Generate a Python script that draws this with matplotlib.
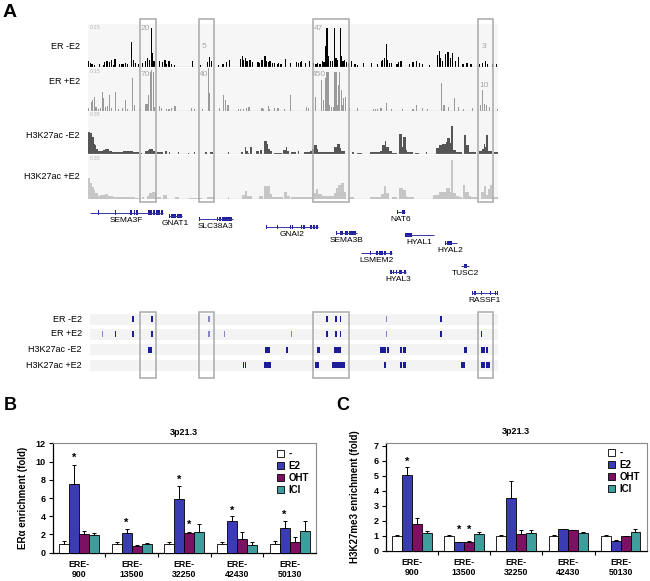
import numpy as np
import matplotlib
matplotlib.use("Agg")
import matplotlib.pyplot as plt
from matplotlib.patches import Rectangle, Patch
from matplotlib.transforms import blended_transform_factory

plt.rcParams['font.family'] = ['Liberation Sans', 'DejaVu Sans']

# ---------------- panel A: browser tracks (locus position in arbitrary units) ----------------
track_names = ["ER -E2", "ER +E2", "H3K27ac -E2", "H3K27ac +E2"]
track_ranges = ["0-15", "0-15", "0-35", "0-35"]
track_ymax = [15, 15, 35, 35]

# ER ChIP-seq signal: (position, signal)
er_minus_e2 = [(109, 1.8), (111, 1.2), (113, 0.8), (116, 0.6), (122, 1.0), (127, 0.6), (129, 1.6), (131, 2.0),
               (133, 1.8), (135, 1.5), (138, 2.2), (140, 0.6), (142, 2.7), (148, 1.0), (150, 0.8), (152, 1.0),
               (155, 1.2), (158, 1.0), (163, 8.5), (165, 2.4), (168, 1.2), (172, 1.0), (177, 1.2), (180, 1.8),
               (183, 3.0), (185, 2.4), (187.7, 13.7), (189, 4.8), (191, 1.8), (198, 1.8), (202, 1.5), (205, 2.2),
               (207, 1.0), (210, 1.8), (213, 1.0), (217, 0.6), (240, 1.8), (250, 0.6), (258, 1.5), (261, 3.4),
               (263, 1.8), (272, 0.6), (278, 1.0), (282, 1.5), (286, 2.4),
               (300, 2.5), (302, 3.6), (304, 2.4), (306, 3.0), (308, 2.0), (311, 2.2), (313, 2.4), (315, 1.5),
               (322, 1.5), (324, 1.2), (327, 2.4), (330.7, 3.6), (333, 1.8), (335, 1.5), (337, 1.8), (340, 1.2),
               (343, 1.2), (346, 1.0), (348, 1.2), (351, 0.8), (356.7, 2.7), (363, 1.2), (370, 1.5), (373, 1.2),
               (375, 1.5), (377, 1.8), (382, 1.2), (387, 1.8), (392, 1.2), (395, 1.0), (397, 1.2), (400, 1.0),
               (403, 1.8), (405, 1.5), (407.3, 7.3), (408.7, 13.7), (410, 3.6), (413, 1.8), (416, 1.8),
               (418.3, 13.7), (420, 3.0), (422, 2.4), (426, 13.7), (427.5, 3.6), (429, 1.8), (431, 2.4),
               (433, 1.5), (436, 1.2), (440, 1.8), (444, 1.0), (447, 0.6), (455, 1.2), (465, 1.2), (472, 1.0),
               (477, 1.8), (479, 2.4), (481, 3.0), (483.3, 7.9), (485, 2.4), (487, 1.2), (490, 1.2), (497, 1.0),
               (499, 1.5), (502, 1.8), (513, 1.0), (517, 1.5), (521, 1.8), (525, 1.2), (529, 1.0), (538, 0.6),
               (548, 4.0), (550, 5.5), (552, 3.0), (554, 2.0), (558, 4.5), (561, 5.0), (564, 3.0), (567, 4.8),
               (571, 1.8), (574, 3.5), (580, 1.0), (585, 1.2), (590, 1.0), (601, 0.8), (604, 1.2), (608, 1.8),
               (611, 1.0), (617, 1.0), (622, 1.0)]

er_plus_e2 = [(109, 1.0), (112, 3.0), (114, 3.6), (115.7, 4.8), (118, 1.2), (121, 0.6), (124, 1.0), (126.7, 6.6),
              (128, 4.2), (130, 1.2), (132.7, 1.5), (135, 5.4), (137.7, 1.0), (142.3, 6.6), (146.7, 0.6),
              (151.7, 1.0), (155.7, 3.6), (157.7, 0.6), (164.3, 11.4), (166.7, 1.8), (174, 1.0), (180, 2.4),
              (182.3, 2.4), (184.3, 5.4), (186.7, 13.5), (188.3, 14.0), (190, 13.5), (191.7, 1.2), (198, 1.5),
              (200, 1.0), (207, 0.6), (210, 0.6), (213.3, 1.0), (217, 1.5), (218.3, 1.5), (238.3, 1.0),
              (242.3, 0.6), (251.7, 0.6), (260, 15.0), (261, 6.0), (273.3, 1.0), (279, 5.4), (281, 3.6),
              (284.3, 1.8),
              (297, 0.6), (300, 0.6), (304, 0.6), (307, 0.8), (310.7, 1.2), (327, 1.0), (329, 0.6), (335, 1.5),
              (336.7, 0.6), (343, 1.0), (346, 0.8), (348, 1.0), (355, 0.6), (363.3, 5.4), (383.3, 1.2),
              (386, 1.0), (394.3, 4.8), (401.7, 10.8), (404, 3.6), (406.7, 11.4), (408.3, 13.3), (410, 13.5),
              (411.7, 1.8), (414, 1.2), (416.7, 1.2), (418.3, 13.5), (420, 13.5), (421.7, 1.8), (423.3, 9.0),
              (425, 13.5), (426.7, 7.2), (428.3, 1.8), (430, 4.2), (431.7, 4.8), (436.7, 1.0), (446.7, 1.0),
              (467, 0.6), (470, 0.6), (472, 0.6), (476.7, 1.0), (483.3, 2.7), (490, 0.6),
              (504, 0.6), (517, 0.6), (521, 1.8), (529, 1.0), (535, 0.6), (553, 9.6), (556, 1.8), (562, 1.2),
              (569, 4.2), (574, 1.2), (581, 0.6), (592, 1.0), (602, 1.8), (605, 7.2), (607.5, 2.4), (610, 1.8),
              (613, 1.2), (623, 0.6)]

# H3K27ac signal: (start, end, signal)
ac_minus_e2 = [(108, 111, 18), (111, 113, 17), (113, 115, 14), (115, 117, 8.3), (117, 118, 7), (118, 120, 4.2),
               (120, 123, 2.2), (123, 127, 2.8), (127, 130, 3.3), (130, 135, 4.2), (135, 138, 2.2), (138, 145, 1.4),
               (145, 152, 1.7), (152, 158, 2.2), (158, 165, 2.2), (165, 172, 1.4), (175, 176, 0.8), (180, 183, 2.2),
               (183, 185, 3.3), (185, 190, 4.2), (190, 193, 2.8), (195, 202, 1.7), (205, 208, 2.8), (210, 211, 1.4),
               (221, 222.5, 1.4), (234, 235.5, 1.1), (241, 242.5, 1.4), (255, 258, 1.4), (262, 265, 1.7),
               (284, 286, 1.4),
               (300, 303, 1.4), (305, 307, 5.5), (307, 309, 2.2), (309, 311, 1.2), (312, 314.5, 6.1), (319, 323, 2.2),
               (325, 327.5, 3.3), (330, 333, 10.5), (333, 335, 8.3), (335, 337, 4.0), (337, 340, 2.8),
               (342, 352, 1.1), (353, 357, 3.3), (357, 359, 6.1), (359, 361, 2.2), (363, 370, 1.4),
               (372, 373.5, 2.2), (380, 387, 1.4), (388, 390, 2.8), (390, 393, 4.0), (393, 396, 7.0),
               (396, 398, 4.2), (398, 402, 2.0), (402, 407, 1.7), (408, 417, 1.7), (417, 418, 3.0), (418, 422, 5.5),
               (422, 425, 8.3), (425, 427, 5.0), (427, 432, 2.2), (440, 443, 1.7), (447, 453, 0.8), (463, 473, 1.4),
               (473, 475, 2.0), (475, 478, 2.8), (478, 482, 7.0), (482, 483.5, 10.5), (483.5, 487, 5.5),
               (487, 490, 2.2), (490, 497, 1.1),
               (500, 503, 16), (503, 504, 6), (504, 508, 14), (508, 510, 3), (510, 517, 1.4), (519, 525, 0.8),
               (533, 534.5, 1.4), (546, 550, 4.5), (550, 554, 7.0), (554, 558, 8.5), (558, 560, 10), (560, 563, 13),
               (563, 565, 9), (565, 567, 23), (567, 571, 3.0), (571, 575, 2.0), (575, 579, 1.4), (581, 584, 15.7),
               (584, 587, 7), (587, 590, 2), (590, 596, 1.4), (600, 604, 2.2), (604, 606, 4), (606, 608, 8.5),
               (608, 609, 6), (609, 612, 15.7), (612, 617, 2.8), (619, 624, 1.4)]

ac_plus_e2 = [(108, 111, 16.4), (111, 113, 12.3), (113, 115, 9.6), (115, 117, 6.8), (117, 120, 4.1), (120, 123, 2.2),
              (123, 130, 2.7), (130, 133, 3.3), (133, 140, 2.2), (140, 147, 1.6), (147, 160, 1.4), (160, 167, 1.6),
              (167, 173, 0.8), (176, 178, 1.0), (182, 185, 2.2), (185, 189, 4.1), (189, 193, 5.5), (193, 200, 1.6),
              (203, 208, 2.7), (218, 222, 1.1), (235, 252, 0.8), (258, 267, 1.1), (284, 286, 1.4),
              (302, 306, 2.7), (306, 308, 6.0), (308, 315, 2.2), (323, 328, 2.2), (330, 333, 10.4), (333, 337, 10.4),
              (337, 340, 3.3), (340, 353, 1.4), (355, 358, 5.5), (358, 362, 2.2), (363, 390, 1.1), (392, 395, 4.1),
              (395, 398, 7.6), (398, 402, 3.3), (402, 417, 2.2), (417, 420, 4.1), (420, 423, 8.2), (423, 427, 11),
              (427, 430, 12.3), (430, 433, 5.5), (436, 443, 1.1), (463, 477, 1.4), (477, 480, 3.3),
              (480, 483, 10.4), (483, 487, 4.1), (490, 497, 1.1),
              (500, 504, 8.4), (504, 508, 7), (508, 510, 2), (510, 518, 1.4), (542, 550, 2.8), (550, 558, 5.6),
              (558, 563, 8.4), (563, 565, 5), (565, 567, 30.8), (567, 571, 4.2), (571, 575, 2), (575, 579, 1.4),
              (580, 583, 11), (583, 587, 5.6), (587, 590, 2), (590, 598, 1.4), (602, 606, 5.6), (606, 609, 9.8),
              (609, 612, 2.8), (612, 614, 8), (614, 617, 11), (617, 619, 2), (619, 624, 1.4)]

highlight_regions = [(173, 194), (248, 267), (391, 436), (599, 618)]
region_max_er_minus = ["20", "5", "47", "3"]
region_max_er_plus = ["70", "40", "450", "10"]

# genes: (name, start, end, exons)
genes = [
    ("SEMA3F", 110, 203, [(110, 111), (121, 122), (125, 126), (142, 143), (161, 163), (165.5, 167.5),
                          (169, 170.5), (184, 188), (189.5, 192.5), (194, 198.5), (200.5, 203)]),
    ("GNAT1", 209.5, 226, [(209.5, 211.5), (213, 219), (219.5, 226)]),
    ("SLC38A3", 248, 290, [(248, 249), (270, 271), (273, 275), (277, 280), (281, 289.5)]),
    ("GNAI2", 332, 397, [(332, 333), (345.5, 346.5), (362, 363), (365, 366), (376, 377), (379, 380.5),
                         (387, 390), (391, 394), (395.5, 397)]),
    ("SEMA3B", 420, 446, [(420, 421), (425, 429), (431, 435), (437, 445.5)]),
    ("NAT6", 497, 507, [(497, 498.5), (503, 506.5)]),
    ("HYAL1", 507, 544, [(507.5, 512), (512.5, 516)]),
    ("HYAL2", 557, 572, [(557, 559), (560, 563), (564, 566), (568, 569)]),
    ("LSMEM2", 451, 490, [(451, 452), (463, 464), (471, 473), (474, 479), (480, 483), (488.5, 490)]),
    ("TUSC2", 577, 588, [(577, 578), (581, 585.5), (587, 588)]),
    ("HYAL3", 488, 508, [(488, 490), (491.5, 493.5), (495, 497.5), (500, 503), (506, 508)]),
    ("RASSF1", 591, 624, [(591, 593), (594, 596.5), (603, 604), (613.5, 615), (620, 622), (623, 624)]),
]
gene_rows = [212.7, 216, 219, 227, 233, 212, 235, 243, 253, 266, 272, 293]

# called peaks: ER (position, score), H3K27ac (start, end)
er_minus_peaks = [(164.6, 1), (188.5, 1), (260.5, 0.5), (409, 1), (420, 1), (426, 1), (484, 0.5), (552, 1)]
er_plus_peaks = [(126, 0.5), (142.5, 1), (164.6, 1), (188.5, 1), (260.5, 0.5), (280, 0.5), (364, 0.5), (408.5, 1),
                 (409.5, 1), (420, 1), (426, 1), (484, 0.5), (552, 1), (603, 1)]
ac_minus_peaks = [(184, 189), (331, 337), (357, 360), (396, 400), (418, 427), (476, 483), (484.5, 487),
                  (501, 503), (505, 508), (581, 585), (603, 607.5), (608.5, 612)]
ac_plus_peaks = [(303, 304.5), (305.5, 307), (329, 338), (394, 399), (415, 431), (480, 483), (501, 503),
                 (505, 508), (578, 582), (603, 608), (609, 614)]

# ---------------- panels B and C: ChIP-qPCR ----------------
sites = ["ERE-\n900", "ERE-\n13500", "ERE-\n32250", "ERE-\n42430", "ERE-\n50130"]
treatments = ["-", "E2", "OHT", "ICI"]

era_ctrl = [1.0, 1.0, 1.0, 1.0, 1.0]
era_e2 = [7.5, 2.15, 5.9, 3.45, 2.75]
era_oht = [2.05, 0.75, 2.15, 1.55, 1.15]
era_ici = [1.95, 0.9, 2.25, 0.85, 2.35]
era_ctrl_err = [0.25, 0.15, 0.2, 0.15, 0.25]
era_e2_err = [2.1, 0.4, 1.4, 0.55, 0.75]
era_oht_err = [0.35, 0.1, 0.1, 0.75, 0.55]
era_ici_err = [0.25, 0.15, 0.85, 0.35, 1.1]
era_stars = [(0, "E2", 10.7), (1, "E2", 3.6), (2, "E2", 8.3), (2, "OHT", 3.4), (3, "E2", 4.9), (4, "E2", 4.5)]

k27_ctrl = [1.0, 1.0, 1.0, 1.0, 1.0]
k27_e2 = [5.05, 0.55, 3.5, 1.42, 0.65]
k27_oht = [1.8, 0.58, 1.12, 1.38, 0.95]
k27_ici = [1.2, 1.1, 1.2, 1.15, 1.28]
k27_ctrl_err = [0.05, 0.05, 0.05, 0.05, 0.05]
k27_e2_err = [0.5, 0.05, 1.15, 0.05, 0.05]
k27_oht_err = [0.4, 0.07, 0.25, 0.03, 0.03]
k27_ici_err = [0.1, 0.12, 0.2, 0.07, 0.2]
k27_stars = [(0, "E2", 6.1), (1, "E2", 1.6), (1, "OHT", 1.6)]

bar_colors = ["white", "#3b3bb4", "#7c1062", "#3f9d9d"]
peak_blue = "#1c1c96"

W, H = 650, 581
fig = plt.figure(figsize=(W / 100, H / 100), dpi=100)


def ax_px(x0, y0, x1, y1):
    return fig.add_axes([x0 / W, 1 - y1 / H, (x1 - x0) / W, (y1 - y0) / H])


def clean(ax):
    ax.set_xticks([])
    ax.set_yticks([])
    for s in ax.spines.values():
        s.set_visible(False)


LOCUS = (108, 624)
TRACK_X = (88, 498)   # pixel span of the browser panel

# signal tracks
track_box = [(24, 66.5), (67.5, 110.5), (111, 154), (155, 198.5)]
label_y = [46.7, 81.7, 135, 176.7]
signals = [er_minus_e2, er_plus_e2, ac_minus_e2, ac_plus_e2]
sig_colors = ["black", "#9a9a9a", "#555555", "#c6c6c6"]
track_axes = []
for i, (top, bot) in enumerate(track_box):
    ax = ax_px(TRACK_X[0], top, TRACK_X[1], bot)
    ax.set_xlim(*LOCUS)
    ax.set_ylim(0, track_ymax[i])
    ax.set_facecolor("#f6f6f6")
    clean(ax)
    data = signals[i]
    if i < 2:
        pos = [p for p, v in data]
        val = np.minimum([v for p, v in data], track_ymax[i])
        ax.bar(pos, val, width=1.5, color=sig_colors[i], linewidth=0)
    else:
        starts = [s for s, e, v in data]
        widths = [e - s for s, e, v in data]
        val = np.minimum([v for s, e, v in data], track_ymax[i])
        ax.bar(starts, val, width=widths, align="edge", color=sig_colors[i], linewidth=0)
    ax.axhline(0, color="#bdbdbd", lw=0.9)
    ax.text(LOCUS[0] + 2, track_ymax[i] * 0.97, track_ranges[i], fontsize=3.8, color="#b5b5b5",
            ha="left", va="top")
    fig.text(80 / W, 1 - label_y[i] / H, track_names[i], ha="right", va="center", fontsize=6.5)
    track_axes.append(ax)

# region maxima written in the highlighted boxes
lab_dx = [(7, 7), (6.5, 5), (6.5, 8), (7, 8)]
lab_fy = [(0.9, 0.83), (0.46, 0.83), (0.9, 0.83), (0.46, 0.59)]
for k, (x0, x1) in enumerate(highlight_regions):
    track_axes[0].text(x0 + lab_dx[k][0], lab_fy[k][0], region_max_er_minus[k], fontsize=6, color="#a8a8a8",
                       ha="center", va="center", transform=track_axes[0].get_xaxis_transform())
    track_axes[1].text(x0 + lab_dx[k][1], lab_fy[k][1], region_max_er_plus[k], fontsize=6, color="#a8a8a8",
                       ha="center", va="center", transform=track_axes[1].get_xaxis_transform())

# gene models
gax = ax_px(TRACK_X[0], 204, TRACK_X[1], 312)
gax.set_xlim(*LOCUS)
gax.set_ylim(312, 204)
gax.axis("off")
for (name, start, end, exons), row in zip(genes, gene_rows):
    gax.plot([start, end], [row, row], color="#3434a8", lw=0.7, solid_capstyle="butt")
    gax.bar([s for s, e in exons], 4.5, bottom=row - 2.25, width=[e - s for s, e in exons], align="edge",
            color="#1e1e9a", linewidth=0)
    gax.text((start + end) / 2, row + 3.8, name, ha="center", va="top", fontsize=6)

# called peaks block
pax = ax_px(TRACK_X[0], 305, TRACK_X[1], 382)
pax.set_xlim(*LOCUS)
pax.set_ylim(382, 305)
pax.axis("off")
row_y = [319, 334, 349.5, 365]
for c in row_y:
    pax.axhspan(c - 5.5, c + 5.5, xmin=0.004, color="#f3f3f3", lw=0)
for r, peaks in enumerate([er_minus_peaks, er_plus_peaks]):
    for p, score in peaks:
        pax.bar(p, 6.5, bottom=row_y[r] - 3.2, width=1.8, color=peak_blue if score >= 1 else "#8585c8",
                linewidth=0)
for r, peaks in enumerate([ac_minus_peaks, ac_plus_peaks]):
    pax.bar([s for s, e in peaks], 6, bottom=row_y[r + 2] - 3, width=[e - s for s, e in peaks], align="edge",
            color=peak_blue, linewidth=0)
for name, c in zip(track_names, row_y):
    fig.text(82 / W, 1 - c / H, name, ha="right", va="center", fontsize=6.5)

# highlight boxes across tracks
blend = blended_transform_factory(track_axes[0].transData, fig.transFigure)
for x0, x1 in highlight_regions:
    for ytop, ybot in [(19, 202), (312, 377.5)]:
        fig.add_artist(Rectangle((x0, 1 - ybot / H), x1 - x0, (ybot - ytop) / H, transform=blend,
                                 fill=False, edgecolor="#a9a9a9", lw=1.1, zorder=10))


# bar charts
def bar_panel(ax, means, errs, stars, ymax, yticks, ylabel, label_x):
    bw = 0.19
    x = np.arange(len(sites))
    for i, (m, e) in enumerate(zip(means, errs)):
        xi = x + (i - 1.5) * bw
        ax.errorbar(xi, m, yerr=[np.zeros(len(m)), e], fmt="none", ecolor="black", elinewidth=0.7,
                    capsize=1.6, capthick=0.7, zorder=2)
        ax.bar(xi, m, bw, color=bar_colors[i], edgecolor="black", linewidth=0.6, zorder=3,
               label=treatments[i])
    for g, t, y in stars:
        xs = g + (treatments.index(t) - 1.5) * bw
        ax.annotate("*", (xs, y), xytext=(0, -2), textcoords="offset points", ha="center", va="center",
                    fontsize=8, fontweight="bold")
    ax.set_xlim(-0.5, len(sites) - 0.5)
    ax.set_ylim(0, ymax)
    ax.set_yticks(yticks)
    ax.set_yticklabels([str(v) for v in yticks], fontsize=6.5, fontweight="bold")
    ax.set_xticks(x)
    ax.set_xticklabels(sites, fontsize=6.3, fontweight="bold", linespacing=1.15)
    ax.set_xticks(x[:-1] + 0.5, minor=True)
    ax.tick_params(axis="x", which="major", length=0, pad=5)
    ax.tick_params(axis="x", which="minor", length=3, width=0.8, direction="out")
    ax.tick_params(axis="y", length=3, width=0.8, direction="out", pad=2)
    for s in ["left", "bottom"]:
        ax.spines[s].set_color("black")
        ax.spines[s].set_linewidth(0.9)
    for s in ["top", "right"]:
        ax.spines[s].set_color("#8a8a8a")
        ax.spines[s].set_linewidth(0.8)
    ax.set_title("3p21.3", fontsize=6.5, fontweight="bold", pad=6)
    ax.set_ylabel(ylabel, fontsize=7, fontweight="bold")
    ax.yaxis.set_label_coords(label_x, 0.5)
    handles = [Patch(facecolor=c, edgecolor="black", linewidth=0.6) for c in bar_colors]
    leg = ax.legend(handles, treatments, loc="upper left", bbox_to_anchor=(0.85, 0.95), frameon=False,
                    fontsize=7, handlelength=0.8, handleheight=0.8, handletextpad=0.4, labelspacing=0.2,
                    borderpad=0, borderaxespad=0)
    for t in leg.get_texts():
        t.set_fontweight("bold")


axB = ax_px(52.7, 443.3, 316, 552.7)
bar_panel(axB, [era_ctrl, era_e2, era_oht, era_ici], [era_ctrl_err, era_e2_err, era_oht_err, era_ici_err],
          era_stars, 12, list(range(0, 13, 2)), "ERα enrichment (fold)", -0.094)

axC = ax_px(385.7, 442.7, 646.7, 550.7)
bar_panel(axC, [k27_ctrl, k27_e2, k27_oht, k27_ici], [k27_ctrl_err, k27_e2_err, k27_oht_err, k27_ici_err],
          k27_stars, 7.2, list(range(0, 8)), "H3K27me3 enrichment (fold)", -0.1)

fig.text(3 / W, 1 - 17 / H, "A", fontsize=14, fontweight="bold", va="baseline")
fig.text(4 / W, 1 - 410 / H, "B", fontsize=13, fontweight="bold", va="baseline")
fig.text(336 / W, 1 - 410 / H, "C", fontsize=13, fontweight="bold", va="baseline")

fig.savefig("out.png", dpi=100)
